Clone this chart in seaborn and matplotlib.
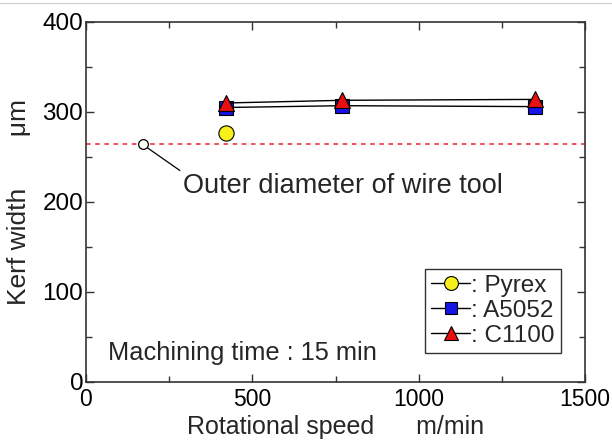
import matplotlib
matplotlib.use("Agg")
import matplotlib.pyplot as plt
from matplotlib.lines import Line2D
from matplotlib.ticker import MultipleLocator
import seaborn as sns
import pandas as pd

# Kerf width measurements (um) against rotational speed (m/min)
speed = [420, 770, 1350]
a5052 = [305, 307, 306]
c1100 = [310, 313, 314]
pyrex_speed = [420]
pyrex = [277]
wire_diameter = 264
wire_marker_speed = 170

sns.set_theme(style="white")
plt.rcParams["font.family"] = ["Liberation Sans", "DejaVu Sans"]

fig = plt.figure(figsize=(6.12, 4.41), dpi=100)
ax = fig.add_axes([86 / 612, 1 - 382 / 441, (585 - 86) / 612, (382 - 22) / 441])

# thin rule along the top of the page
fig.add_artist(Line2D([0, 1], [1 - 2.5 / 441] * 2, transform=fig.transFigure,
                      color="#cfcfcf", lw=0.8))

df = pd.DataFrame({"speed": speed, "A5052": a5052, "C1100": c1100})
df_pyrex = pd.DataFrame({"speed": pyrex_speed, "Pyrex": pyrex})

# reference line: outer diameter of the wire tool
ax.axhline(wire_diameter, color="#e8212a", lw=1.1, ls=(0, (3, 3)), zorder=1)

sns.lineplot(data=df, x="speed", y="A5052", ax=ax, color="black", lw=1.0,
             marker="s", markersize=10, markerfacecolor="#1414e6",
             markeredgecolor="black", markeredgewidth=0.8, zorder=3)
sns.lineplot(data=df, x="speed", y="C1100", ax=ax, color="black", lw=1.0,
             marker="^", markersize=11.5, markerfacecolor="#e80f0f",
             markeredgecolor="black", markeredgewidth=0.8, zorder=4)
sns.scatterplot(data=df_pyrex, x="speed", y="Pyrex", ax=ax, marker="o", s=120,
                color="#f7f01a", edgecolor="black", linewidth=0.8, zorder=4)

# open circle on the reference line with a leader to its caption
ax.plot([wire_marker_speed], [wire_diameter], marker="o", markersize=7,
        markerfacecolor="white", markeredgecolor="black", markeredgewidth=0.9,
        zorder=5, ls="none")
ax.annotate("Outer diameter of wire tool", xy=(wire_marker_speed, wire_diameter),
            xytext=(292, 218), textcoords="data", fontsize=19.5,
            ha="left", va="center",
            arrowprops=dict(arrowstyle="-", color="black", lw=0.9,
                            shrinkA=0, shrinkB=4, relpos=(0.0, 1.0)))

ax.text(66, 32, "Machining time : 15 min", fontsize=18.3, ha="left", va="center")

ax.set_xlim(0, 1500)
ax.set_ylim(0, 400)
ax.xaxis.set_major_locator(MultipleLocator(500))
ax.xaxis.set_minor_locator(MultipleLocator(250))
ax.yaxis.set_major_locator(MultipleLocator(100))
ax.yaxis.set_minor_locator(MultipleLocator(50))
ax.tick_params(which="both", direction="in", top=True, right=True,
               bottom=True, left=True, color="#333333", width=1.0,
               labelcolor="black")
ax.tick_params(axis="x", labelsize=16.5, pad=4)
ax.tick_params(axis="y", labelsize=17.5, pad=2)
ax.tick_params(which="major", length=6)
ax.tick_params(which="minor", length=4)
for sp in ax.spines.values():
    sp.set_color("#333333")
    sp.set_linewidth(1.2)

ax.set_xlabel("Rotational speed      m/min", fontsize=18, labelpad=3)
ax.set_ylabel("Kerf width       \u03bcm", fontsize=19, labelpad=8)

handles = [
    Line2D([], [], color="black", lw=1.0, marker="o", markersize=10,
           markerfacecolor="#f7f01a", markeredgecolor="black", markeredgewidth=0.8),
    Line2D([], [], color="black", lw=1.0, marker="s", markersize=9,
           markerfacecolor="#1414e6", markeredgecolor="black", markeredgewidth=0.8),
    Line2D([], [], color="black", lw=1.0, marker="^", markersize=10.5,
           markerfacecolor="#e80f0f", markeredgecolor="black", markeredgewidth=0.8),
]
leg = ax.legend(handles, [": Pyrex", ": A5052", ": C1100"], loc="lower right",
                bbox_to_anchor=(0.952, 0.081), fontsize=17.5, frameon=True,
                fancybox=False, edgecolor="black", handlelength=1.6,
                handletextpad=0.05, borderpad=0.25, labelspacing=0.12,
                borderaxespad=0)
leg.get_frame().set_linewidth(1.0)

fig.savefig("out.png", dpi=100)
